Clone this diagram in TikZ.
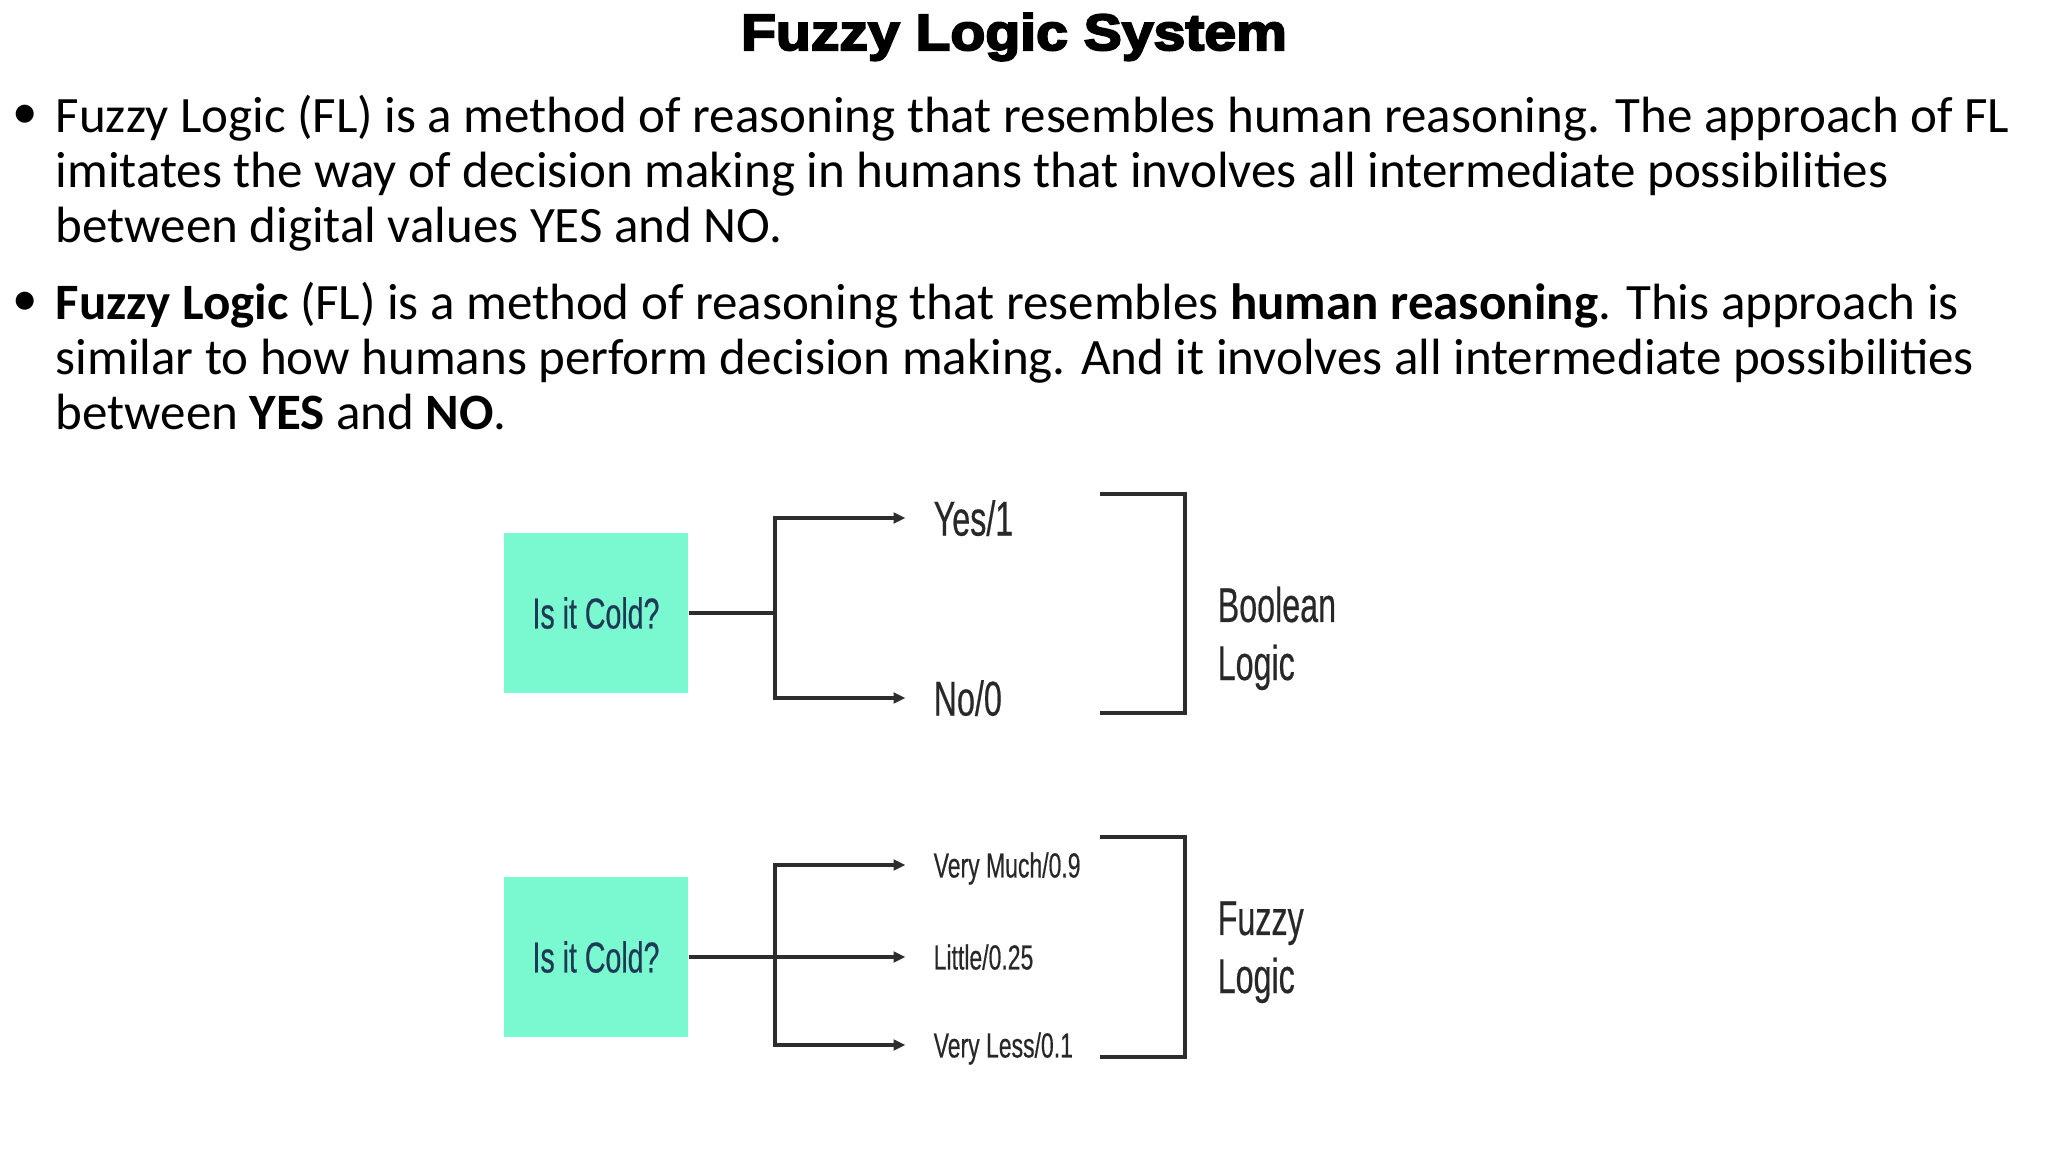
\documentclass[tikz,border=0pt]{standalone}
\usepackage{fontspec}
\setmainfont{Carlito}
\newfontfamily\titlefont[FakeStretch=1.12,FakeBold=4]{Liberation Sans}
\newfontfamily\diagfont[FakeStretch=0.66,FakeBold=0.4]{Liberation Sans}
\usetikzlibrary{positioning, arrows.meta}

\definecolor{mintfill}{RGB}{122,248,207}
\definecolor{querytext}{RGB}{30,58,86}
\definecolor{linkgray}{RGB}{45,45,45}
\definecolor{labelgray}{RGB}{40,40,40}

\begin{document}
\begin{tikzpicture}[
    x=0.01cm, y=-0.01cm,
    heading/.style={anchor=base, inner sep=0pt, font=\titlefont\bfseries\fontsize{14.5}{16}\selectfont},
    bulletmark/.style={inner sep=0pt, font=\fontsize{14.5}{15.65}\selectfont},
    bodytext/.style={anchor=base west, inner sep=0pt, align=left, font=\fontsize{14.5}{15.65}\selectfont},
    querybox/.style={rectangle, fill=mintfill, minimum width=1.84cm, minimum height=1.59cm, inner sep=0pt, text=querytext, font=\diagfont\fontsize{12.3}{14}\selectfont},
    answer/.style={anchor=west, inner sep=0pt, text height=10pt, text depth=0pt, text=labelgray, font=\diagfont\fontsize{13.9}{16}\selectfont},
    degree/.style={answer, text height=7.1pt, font=\diagfont\fontsize{9.9}{12}\selectfont},
    logicname/.style={anchor=base west, inner sep=0pt, align=left, text=labelgray, font=\diagfont\fontsize{13.9}{16.5}\selectfont},
    link/.style={line width=1pt, draw=linkgray},
    arrow/.style={link, -{Triangle[length=3.4pt, width=3pt]}, shorten >=2.75mm}
]
\useasboundingbox (0,0) rectangle (2048,1152);

\node[heading] (title) at (1014,50) {Fuzzy Logic System};

% the two bullet points
\node[bulletmark] (dotone) at (25,117) {•};
\node[bodytext] (pointone) at (55,243) {Fuzzy Logic (FL) is a method of reasoning that resembles human reasoning. The approach of FL\\
imitates the way of decision making in humans that involves all intermediate possibilities\\
between digital values YES and NO.};
\node[bulletmark] (dottwo) at (25,304) {•};
\node[bodytext] (pointtwo) at (55,430) {\textbf{Fuzzy Logic} (FL) is a method of reasoning that resembles \textbf{human reasoning}. This approach is\\
similar to how humans perform decision making. And it involves all intermediate possibilities\\
between \textbf{YES} and \textbf{NO}.};

% boolean logic
\node[querybox] (crispq) at (596,613) {Is it Cold?};
\coordinate[right=0.86cm of crispq.east] (crispfork);
\node[answer] (yes) at (933,518) {Yes/1};
\node[answer] (no) at (933,698) {No/0};
\node[logicname] (boolean) at (1217,680) {Boolean\\Logic};

\draw[link] (crispq.east) -- (crispfork);
\draw[arrow] (crispfork) |- (yes.west);
\draw[arrow] (crispfork) |- (no.west);
\draw[link] (1100,494) -| (1185,713) -- (1100,713);

% fuzzy logic
\node[querybox] (fuzzyq) at (596,957) {Is it Cold?};
\coordinate[right=0.86cm of fuzzyq.east] (fuzzyfork);
\node[degree] (much) at (933,865) {Very Much/0.9};
\node[degree] (little) at (933,957) {Little/0.25};
\node[degree] (less) at (933,1045) {Very Less/0.1};
\node[logicname] (fuzzy) at (1217,993) {Fuzzy\\Logic};

\draw[arrow] (fuzzyq.east) -- (little.west);
\draw[arrow] (fuzzyfork) |- (much.west);
\draw[arrow] (fuzzyfork) |- (less.west);
\draw[link] (1100,837) -| (1185,1057) -- (1100,1057);
\end{tikzpicture}
\end{document}
